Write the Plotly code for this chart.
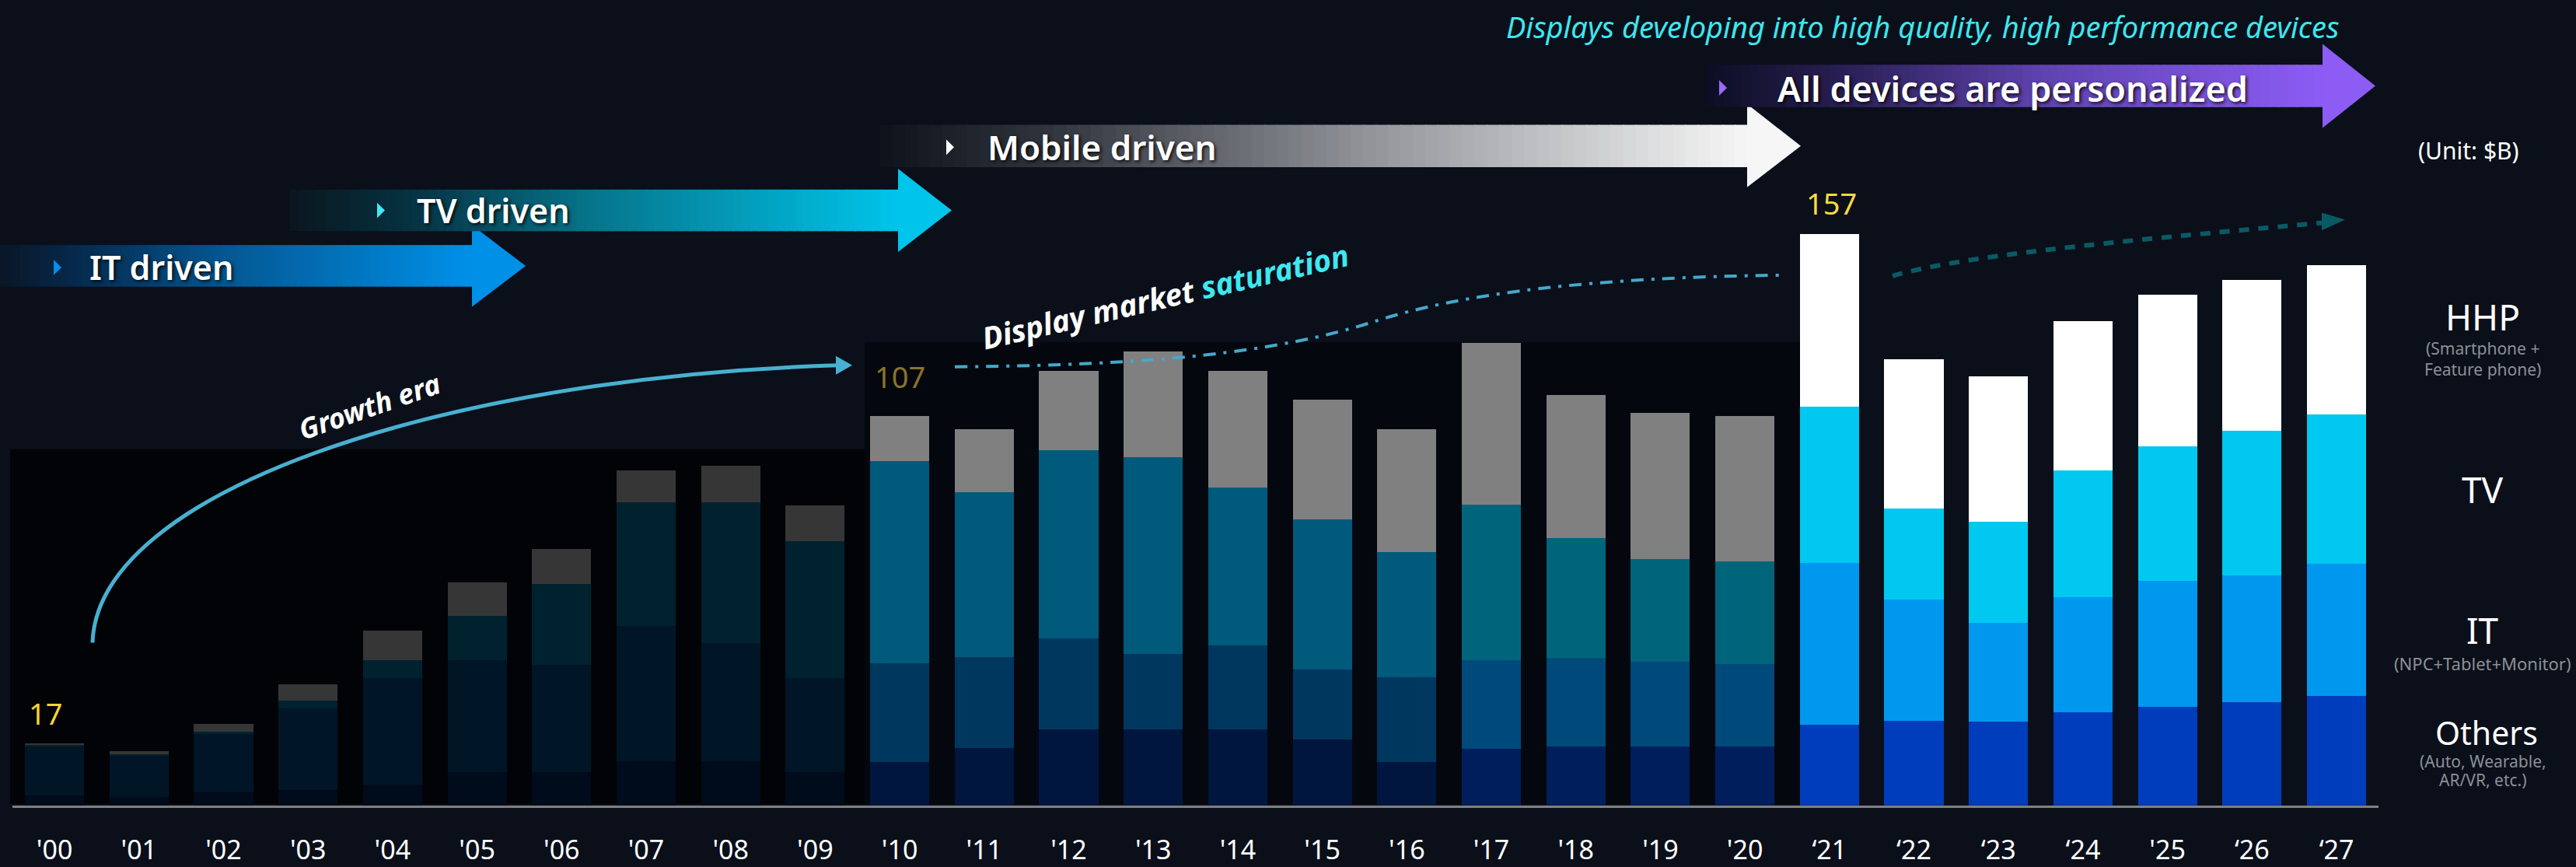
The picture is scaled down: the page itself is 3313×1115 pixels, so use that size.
import plotly.graph_objects as go

W, H = 3313, 1115

# ---------------- data (unit: $B) ----------------
years = ["'00", "'01", "'02", "'03", "'04", "'05", "'06", "'07", "'08", "'09",
         "'10", "'11", "'12", "'13", "'14", "'15", "'16", "'17", "'18", "'19", "'20",
         "‘21", "‘22", "‘23", "‘24", "'25", "‘26", "‘27"]
others = [2.8, 2.2, 3.5, 4.3, 5.6, 9.2, 9.2, 12.2, 12.2, 9.2,
          11.9, 15.8, 20.8, 20.8, 20.8, 18.1, 11.9, 15.5, 16.1, 16.1, 16.2,
          22.1, 23.2, 23.1, 25.5, 27.0, 28.4, 30.0]
it_vals = [13.4, 11.4, 16.1, 22.4, 29.3, 30.8, 29.5, 37.0, 32.4, 25.7,
           27.1, 24.9, 25.1, 20.9, 23.1, 19.2, 23.3, 24.5, 24.4, 23.3, 22.6,
           44.5, 33.4, 27.0, 31.8, 34.6, 34.9, 36.4]
tv_vals = [0.3, 0.5, 0.6, 2.0, 4.9, 12.0, 22.2, 34.0, 38.6, 37.7,
           55.7, 45.4, 51.8, 54.1, 43.4, 41.3, 34.4, 42.6, 32.9, 28.2, 28.2,
           43.0, 25.0, 27.9, 34.7, 37.1, 39.7, 41.0]
hhp_vals = [0.5, 0.8, 2.1, 4.5, 8.3, 9.2, 9.5, 8.8, 10.1, 9.8,
            12.3, 17.2, 21.8, 29.0, 32.2, 32.9, 33.7, 44.5, 39.4, 40.2, 40.0,
            47.4, 41.1, 39.9, 41.2, 41.6, 41.4, 41.2]
labelled_years = ["'00", "'10", "‘21"]
segment_names = ["Others", "IT", "TV", "HHP"]

# ---------------- styling ----------------
BG = "#0a0f1a"
FONT = "Noto Sans"
# era palettes: (Others, IT, TV, HHP)
pal_growth = ("#000b1b", "#001627", "#00222f", "#363636")
pal_sat_a = ("#00163f", "#00375f", "#005a7b", "#808080")
pal_sat_b = ("#001e5b", "#004a7b", "#00657a", "#808080")
pal_now = ("#003dbd", "#0098ee", "#00c8f0", "#ffffff")


def palette_for(i):
    if i <= 9:
        return pal_growth
    if i <= 16:
        return pal_sat_a
    if i <= 20:
        return pal_sat_b
    return pal_now


def px(x):
    return x / W


def py(y):
    return 1 - y / H


fig = go.Figure()
series = [others, it_vals, tv_vals, hhp_vals]
for k, (name, vals) in enumerate(zip(segment_names, series)):
    fig.add_trace(go.Bar(
        x=years, y=vals, name=name,
        marker=dict(color=[palette_for(i)[k] for i in range(len(years))], line=dict(width=0)),
        hoverinfo="x+y+name",
    ))

totals = [round(a + b + c + d, 1) for a, b, c, d in zip(others, it_vals, tv_vals, hhp_vals)]

shapes = []
annotations = []


def rect(x0, y0, x1, y1, color, layer="above"):
    shapes.append(dict(type="rect", xref="paper", yref="paper",
                       x0=px(x0), x1=px(x1), y0=py(y1), y1=py(y0),
                       fillcolor=color, line=dict(width=0), layer=layer))


def poly(points, color, layer="above"):
    path = "M " + " L ".join(f"{px(x):.6f},{py(y):.6f}" for x, y in points) + " Z"
    shapes.append(dict(type="path", xref="paper", yref="paper", path=path,
                       fillcolor=color, line=dict(width=0), layer=layer))


def curve(segs, color, width, dash="solid"):
    start, rest = segs[0], segs[1:]
    p = f"M {px(start[0]):.6f},{py(start[1]):.6f}"
    for c1, c2, e in rest:
        p += (f" C {px(c1[0]):.6f},{py(c1[1]):.6f} {px(c2[0]):.6f},{py(c2[1]):.6f}"
              f" {px(e[0]):.6f},{py(e[1]):.6f}")
    shapes.append(dict(type="path", xref="paper", yref="paper", path=p,
                       line=dict(color=color, width=width, dash=dash), layer="above"))


def hex2rgb(h):
    h = h.lstrip("#")
    return tuple(int(h[i:i + 2], 16) for i in (0, 2, 4))


def grad_color(stops, t):
    for (t0, c0), (t1, c1) in zip(stops[:-1], stops[1:]):
        if t0 <= t <= t1:
            f = 0 if t1 == t0 else (t - t0) / (t1 - t0)
            a, b = hex2rgb(c0), hex2rgb(c1)
            return "rgb(%d,%d,%d)" % tuple(round(a[i] + (b[i] - a[i]) * f) for i in range(3))
    return stops[-1][1]


def arrow(x0, x1, y0, y1, head_x, head_top, head_bot, stops, n=70):
    step = (x1 - x0) / n
    for i in range(n):
        c = grad_color(stops, (i + 0.5) / n)
        rect(x0 + i * step, y0, x0 + (i + 1) * step + 1.2, y1, c)
    poly([(x1, head_top), (head_x, (y0 + y1) / 2), (x1, head_bot)], stops[-1][1])


# background panels
rect(13, 583, 1112, 1043, "#020306", layer="below")
rect(1112, 444, 2318, 1043, "#04070e", layer="below")

# era arrows
arrow(0, 607, 318, 372, 676, 292, 398,
      [(0, "#0a1626"), (0.15, "#06284a"), (0.5, "#045a96"), (1, "#0090e8")])
arrow(373, 1155, 246, 300, 1224, 219, 327,
      [(0, "#0a161e"), (0.2, "#063242"), (0.5, "#06768c"), (1, "#00c4ea")])
arrow(1132, 2247, 162, 217, 2316, 135, 243,
      [(0, "#0e121b"), (0.2, "#31353d"), (0.55, "#8f9197"), (1, "#f6f6f6")])
arrow(2194, 2987, 84, 139, 3055, 57, 166,
      [(0, "#0b0e22"), (0.2, "#261d4e"), (0.55, "#5f43b0"), (1, "#8c5cf4")])

# small triangles before arrow texts
for (tx, ty, col) in [(69, 347, "#0090e6"), (485, 273, "#45e6f6"),
                      (1217, 191, "#ffffff"), (2211, 114, "#9a6af8")]:
    poly([(tx, ty - 10), (tx + 10, ty), (tx, ty + 10)], col)

# growth curve
curve([(119, 834), ((125, 640), (560, 490), (1078, 474))], "#48b0d0", 5)
poly([(1075, 462), (1096, 474), (1075, 486)], "#48b0d0")
# saturation dash-dot curve
curve([(1228, 476), ((1480, 474), (1640, 458), (1765, 418)),
       ((1880, 380), (2050, 360), (2294, 357))], "#45a8c8", 4, dash="16px,10px,4px,10px")
# forecast dashed arrow
curve([(2434, 358), ((2520, 333), (2700, 315), (2988, 289))], "#0a5a63", 6, dash="13px,12px")
poly([(2986, 276), (3016, 285), (2986, 299)], "#0a5a63")


def text(x, y, s, size, color="#ffffff", xanchor="center", yanchor="middle",
         weight="normal", style="normal", angle=0, shadow="none", family=FONT):
    annotations.append(dict(xref="paper", yref="paper", x=px(x), y=py(y), text=s,
                            showarrow=False, xanchor=xanchor, yanchor=yanchor,
                            textangle=angle, borderpad=0,
                            font=dict(family=family, size=size, color=color, weight=weight,
                                      style=style, shadow=shadow)))


SH = "2px 2px 4px rgba(0,0,0,0.85)"
text(114, 347, "IT driven", 43, xanchor="left", weight=600, shadow=SH)
text(535, 273, "TV driven", 43, xanchor="left", weight=600, shadow=SH)
text(1269, 191, "Mobile driven", 44, xanchor="left", weight=600, shadow=SH)
text(2285, 115, "All devices are personalized", 45, xanchor="left", weight=600, shadow=SH)
text(2472, 34, "Displays developing into high quality, high performance devices", 38,
     color="#3ee6ee", style="italic")
text(3175, 195, "(Unit: $B)", 30)

text(475, 527, "Growth era", 36, weight="bold", style="italic", angle=-19)
text(1498, 384, "Display market <span style='color:#3ee8f0'>saturation</span>", 39,
     weight="bold", style="italic", angle=-13)

# category labels on the right
LX = 3193
SUB = "#8c9096"
text(LX, 411, "HHP", 46)
text(LX, 452, "(Smartphone +", 21, color=SUB)
text(LX, 479, "Feature phone)", 21, color=SUB)
text(LX, 635, "TV", 46)
text(LX, 817, "IT", 46)
text(LX, 861, "(NPC+Tablet+Monitor)", 22, color=SUB)
text(LX + 5, 951, "Others", 41)
text(LX, 988, "(Auto, Wearable,", 21, color=SUB)
text(LX, 1012, "AR/VR, etc.)", 21, color=SUB)

# value labels tied to data
label_style = {"'00": ("#f7d630", 11, -12), "'10": ("#8a7526", 23, 0), "‘21": ("#fadc3c", 12, 3)}
for yr in labelled_years:
    i = years.index(yr)
    col, ysh, xsh = label_style[yr]
    annotations.append(dict(x=yr, y=totals[i], xref="x", yref="y", text=f"{totals[i]:.0f}",
                            showarrow=False, yanchor="bottom", xanchor="center",
                            yshift=ysh, xshift=xsh,
                            font=dict(family=FONT, size=38, color=col)))

K = 4.72          # pixels per $B
BASE = 1045       # pixel row of zero
x_left, x_right = 15.7, 3059.4

fig.update_layout(
    width=W, height=H, margin=dict(l=0, r=0, t=0, b=0, pad=0),
    paper_bgcolor=BG, plot_bgcolor="rgba(0,0,0,0)",
    barmode="stack", bargap=0.30, showlegend=False,
    shapes=shapes, annotations=annotations,
    xaxis=dict(type="category", domain=[px(x_left), px(x_right)], range=[-0.5, len(years) - 0.5],
               showgrid=False, zeroline=False, showline=True, linecolor="#808080", linewidth=3,
               ticks="outside", ticklen=26, tickcolor="rgba(0,0,0,0)",
               tickfont=dict(family=FONT, size=34, color="#ffffff"), fixedrange=True),
    yaxis=dict(domain=[1 - BASE / H, 1], range=[0, BASE / K], visible=False,
               showgrid=False, zeroline=False, fixedrange=True),
    font=dict(family=FONT, color="#ffffff"),
)

fig.write_html("out.html", config={"displayModeBar": False},
               post_script="document.body.style.margin='0';document.body.style.overflow='hidden';")
